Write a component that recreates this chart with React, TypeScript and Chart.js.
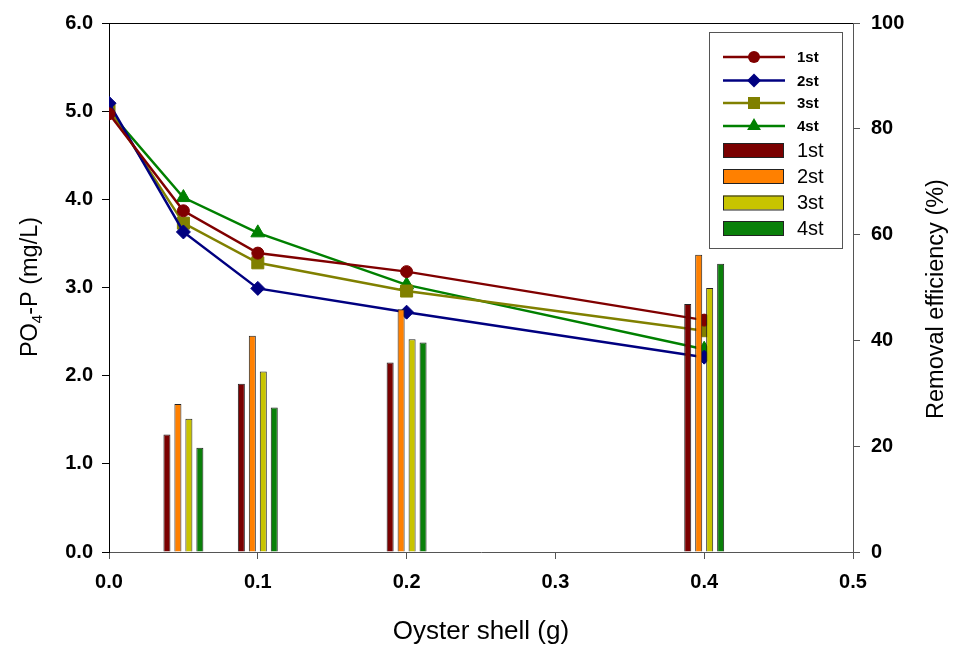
import React, { useEffect, useRef } from 'react';
import { Chart, registerables } from 'chart.js';

Chart.register(...registerables);

// ---- Data ----
const doses = [0, 0.05, 0.1, 0.2, 0.4];
const po4First = [4.97, 3.87, 3.39, 3.18, 2.63];
const po4Second = [5.09, 3.63, 2.99, 2.72, 2.21];
const po4Third = [5.03, 3.73, 3.28, 2.96, 2.51];
const po4Fourth = [5.0, 4.02, 3.62, 3.03, 2.3];

const barDoses = [0.05, 0.1, 0.2, 0.4];
const effFirst = [22.2, 31.8, 35.8, 46.9];
const effSecond = [28.0, 40.9, 45.9, 56.2];
const effThird = [25.2, 34.1, 40.2, 49.9];
const effFourth = [19.7, 27.3, 39.6, 54.5];

const seriesLabels = ['1st', '2st', '3st', '4st'];
const xTitle = 'Oyster shell (g)';
const yTitleMain = 'PO';
const yTitleSub = '4';
const yTitleRest = '-P (mg/L)';
const y2Title = 'Removal efficiency (%)';

const lineColors = ['#800000', '#000080', '#808000', '#008000'];
const pointStyles = ['circle', 'rectRot', 'rect', 'triangle'];
const pointRadii = [6, 7, 8.5, 8];
const barColors = ['#7a0000', '#ff8000', '#c8c400', '#0a800a'];

const FONT = '"Liberation Sans", Arial, Helvetica, sans-serif';

function drawMarker(ctx: CanvasRenderingContext2D, style: string, x: number, y: number, r: number) {
  ctx.beginPath();
  if (style === 'circle') {
    ctx.arc(x, y, r, 0, Math.PI * 2);
  } else if (style === 'rectRot') {
    ctx.moveTo(x - r, y);
    ctx.lineTo(x, y - r);
    ctx.lineTo(x + r, y);
    ctx.lineTo(x, y + r);
    ctx.closePath();
  } else if (style === 'rect') {
    const s = r * Math.SQRT1_2;
    ctx.rect(x - s, y - s, 2 * s, 2 * s);
  } else if (style === 'triangle') {
    for (let k = 0; k < 3; k++) {
      const a = (k * 2 * Math.PI) / 3;
      const px = x + Math.sin(a) * r;
      const py = y - Math.cos(a) * r;
      if (k === 0) ctx.moveTo(px, py);
      else ctx.lineTo(px, py);
    }
    ctx.closePath();
  }
  ctx.fill();
}

const decorPlugin = {
  id: 'decor',
  afterDraw(chart: any) {
    const ctx: CanvasRenderingContext2D = chart.ctx;
    const area = chart.chartArea;
    ctx.save();

    // top frame line
    ctx.strokeStyle = '#000';
    ctx.lineWidth = 1;
    ctx.beginPath();
    ctx.moveTo(area.left, area.top + 0.5);
    ctx.lineTo(area.right, area.top + 0.5);
    ctx.stroke();

    // axis titles
    ctx.fillStyle = '#000';
    ctx.textBaseline = 'middle';

    // x title
    ctx.font = `26px ${FONT}`;
    ctx.textAlign = 'center';
    ctx.fillText(xTitle, (area.left + area.right) / 2, 632);

    // left title with subscript
    ctx.save();
    ctx.translate(31, 287);
    ctx.rotate(-Math.PI / 2);
    const bigFont = `23.5px ${FONT}`;
    const smallFont = `15px ${FONT}`;
    ctx.font = bigFont;
    const w1 = ctx.measureText(yTitleMain).width;
    const w3 = ctx.measureText(yTitleRest).width;
    ctx.font = smallFont;
    const w2 = ctx.measureText(yTitleSub).width;
    const total = w1 + w2 + w3;
    let cx = -total / 2;
    ctx.textAlign = 'left';
    ctx.font = bigFont;
    ctx.fillText(yTitleMain, cx, 0);
    cx += w1;
    ctx.font = smallFont;
    ctx.fillText(yTitleSub, cx, 7);
    cx += w2;
    ctx.font = bigFont;
    ctx.fillText(yTitleRest, cx, 0);
    ctx.restore();

    // right title
    ctx.save();
    ctx.translate(937, 299);
    ctx.rotate(-Math.PI / 2);
    ctx.font = `23.5px ${FONT}`;
    ctx.textAlign = 'center';
    ctx.fillText(y2Title, 0, 0);
    ctx.restore();

    // legend box
    const bx = 709.5, by = 32.5, bw = 133, bh = 216;
    ctx.fillStyle = '#fff';
    ctx.fillRect(bx, by, bw, bh);
    ctx.strokeStyle = '#555';
    ctx.lineWidth = 1;
    ctx.strokeRect(bx, by, bw, bh);

    const lineRows = [57, 80.5, 103, 126];
    const barRows = [150, 176, 202.5, 228];
    const sx1 = 723, sx2 = 785, textX = 797;
    for (let i = 0; i < 4; i++) {
      const y = lineRows[i];
      ctx.strokeStyle = lineColors[i];
      ctx.lineWidth = 2.5;
      ctx.beginPath();
      ctx.moveTo(sx1, y);
      ctx.lineTo(sx2, y);
      ctx.stroke();
      ctx.fillStyle = lineColors[i];
      drawMarker(ctx, pointStyles[i], (sx1 + sx2) / 2, y, pointRadii[i]);
      ctx.fillStyle = '#000';
      ctx.font = `bold 15px ${FONT}`;
      ctx.textAlign = 'left';
      ctx.textBaseline = 'middle';
      ctx.fillText(seriesLabels[i], textX, y + 1);
    }
    for (let i = 0; i < 4; i++) {
      const y = barRows[i];
      ctx.fillStyle = barColors[i];
      ctx.fillRect(sx1, y - 7, 60, 14);
      ctx.strokeStyle = '#222';
      ctx.lineWidth = 1;
      ctx.strokeRect(sx1 + 0.5, y - 7 + 0.5, 60, 14);
      ctx.fillStyle = '#000';
      ctx.font = `20px ${FONT}`;
      ctx.textAlign = 'left';
      ctx.textBaseline = 'middle';
      ctx.fillText(seriesLabels[i], textX, y + 1);
    }
    ctx.restore();
  },
};

export default function App() {
  const canvasRef = useRef<HTMLCanvasElement | null>(null);

  useEffect(() => {
    if (!canvasRef.current) return;
    const lineSeries = [po4First, po4Second, po4Third, po4Fourth];
    const barSeries = [effFirst, effSecond, effThird, effFourth];

    const lineDatasets = lineSeries.map((vals, i) => ({
      type: 'line' as const,
      label: seriesLabels[i],
      data: doses.map((x, j) => ({ x, y: vals[j] })),
      borderColor: lineColors[i],
      backgroundColor: lineColors[i],
      pointBackgroundColor: lineColors[i],
      pointBorderColor: lineColors[i],
      pointBorderWidth: 1,
      pointStyle: pointStyles[i],
      pointRadius: pointRadii[i],
      borderWidth: 2.5,
      tension: 0,
      fill: false,
      yAxisID: 'y',
      order: 1,
    }));

    const barDatasets = barSeries.map((vals, i) => ({
      type: 'bar' as const,
      label: seriesLabels[i],
      data: barDoses.map((x, j) => ({ x, y: vals[j] })),
      backgroundColor: barColors[i],
      borderColor: '#222',
      borderWidth: 1,
      categoryPercentage: 0.59,
      barPercentage: 0.64,
      yAxisID: 'y2',
      order: 0,
    }));

    const tickFont = { family: FONT, size: 20, weight: 'bold' as const };

    const chart = new Chart(canvasRef.current, {
      type: 'bar',
      data: { datasets: [...barDatasets, ...lineDatasets] as any },
      options: {
        responsive: false,
        animation: false,
        devicePixelRatio: 1,
        layout: { padding: { top: 18, left: 0, right: 0, bottom: 0 } },
        plugins: {
          legend: { display: false },
          tooltip: { enabled: false },
        },
        scales: {
          x: {
            type: 'linear',
            position: 'bottom',
            min: 0,
            max: 0.5,
            offset: false,
            ticks: {
              stepSize: 0.1,
              autoSkip: false,
              maxRotation: 0,
              color: '#000',
              font: tickFont,
              padding: 11,
              callback: (v: any) => Number(v).toFixed(1),
            },
            grid: {
              offset: false,
              drawOnChartArea: false,
              drawTicks: true,
              tickLength: 7,
              color: '#555',
            },
            border: { display: true, color: '#555', width: 1 },
            afterFit: (s: any) => {
              s.height = 98;
            },
          },
          y: {
            type: 'linear',
            position: 'left',
            min: 0,
            max: 6,
            ticks: {
              stepSize: 1,
              color: '#000',
              font: tickFont,
              padding: 9,
              callback: (v: any) => Number(v).toFixed(1),
            },
            grid: {
              drawOnChartArea: false,
              drawTicks: true,
              tickLength: 7,
              color: '#000',
            },
            border: { display: true, color: '#000', width: 1 },
            afterFit: (s: any) => {
              s.width = 109;
            },
          },
          y2: {
            type: 'linear',
            position: 'right',
            min: 0,
            max: 100,
            ticks: {
              stepSize: 20,
              color: '#000',
              font: tickFont,
              padding: 11,
              callback: (v: any) => String(Math.round(Number(v))),
            },
            grid: {
              drawOnChartArea: false,
              drawTicks: true,
              tickLength: 7,
              color: '#555',
            },
            border: { display: true, color: '#555', width: 1 },
            afterFit: (s: any) => {
              s.width = 105;
            },
          },
        },
      } as any,
      plugins: [decorPlugin],
    });

    return () => {
      chart.destroy();
    };
  }, []);

  return (
    <div style={{ position: 'absolute', left: 0, top: 0, width: 958, height: 650, background: '#fff' }}>
      <canvas ref={canvasRef} width={958} height={650} style={{ width: 958, height: 650, display: 'block' }} />
    </div>
  );
}
